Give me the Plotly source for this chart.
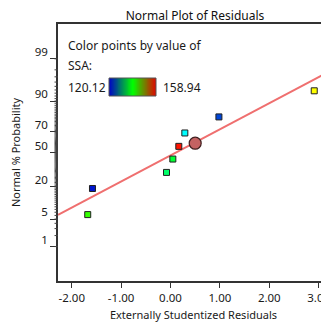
import numpy as np
import plotly.graph_objects as go
from statistics import NormalDist

# ---------------- data ----------------
residuals = [-1.676, -1.58, -0.081, 0.047, 0.168, 0.29, 0.98, 2.91]
probabilities = [6.25, 18.75, 31.25, 43.75, 56.25, 68.75, 81.25, 93.75]
ssa_values = [141.5, 121.0, 135.6, 137.6, 158.2, 129.8, 122.8, 149.2]
ssa_min, ssa_max = 120.12, 158.94

highlight_residual = [0.50]
highlight_probability = [59.3]

fit_center = 0.104
fit_scale = 1.547

x_tick_vals = [-2, -1, 0, 1, 2, 3]
x_tick_text = ["-2.00", "-1.00", "0.00", "1.00", "2.00", "3.00"]
y_tick_probs = [1, 5, 20, 50, 70, 90, 99]
y_tick_text = ["1", "5", "20", "50", "70", "90", "99"]
y_minor_probs = list(range(1, 100))

x_range = [-2.278, 3.209]
z_range = [-3.18, 3.19]

nd = NormalDist()
def z_of(p):
    return nd.inv_cdf(p / 100.0)

# page body adds an 8px offset; figure is laid out in reference pixels minus 8
OFF = 8
W, H = 329 - OFF, 322 - OFF
ML, MR, MT, MB = 58 - OFF, 0, 24 - OFF, 41
PW, PH = W - ML - MR, H - MT - MB

def px(x):
    return (x - OFF - ML) / PW

def py(y):
    return (H - MB - (y - OFF)) / PH

font_family = "Noto Sans, Open Sans, DejaVu Sans, sans-serif"
txt_col = "#1a1a1a"

fig = go.Figure()

# fit line
lx = np.array(x_range)
lz = (lx - fit_center) / fit_scale
fig.add_trace(go.Scatter(x=lx, y=lz, mode="lines",
                         line=dict(color="#ef6f6f", width=2),
                         hoverinfo="skip", showlegend=False))

# points
point_scale = [[0.0, "rgb(0,0,200)"], [0.25, "rgb(0,255,255)"],
               [0.5, "rgb(0,255,0)"], [0.75, "rgb(255,255,0)"],
               [1.0, "rgb(255,0,0)"]]
fig.add_trace(go.Scatter(
    x=residuals, y=[z_of(p) for p in probabilities], mode="markers",
    marker=dict(symbol="square", size=6, color=ssa_values,
                colorscale=point_scale, cmin=ssa_min, cmax=ssa_max,
                line=dict(color="#202020", width=1)),
    showlegend=False))

# highlighted circle
fig.add_trace(go.Scatter(
    x=highlight_residual, y=[z_of(p) for p in highlight_probability],
    mode="markers",
    marker=dict(symbol="circle", size=12, color="#c46262",
                line=dict(color="#402020", width=1.2)),
    showlegend=False))

# gradient bar (legend)
bar_scale = [[0.0, "rgb(0,0,200)"], [0.5, "rgb(0,255,0)"], [1.0, "rgb(230,0,0)"]]
gx = np.linspace(ssa_min, ssa_max, 100)
fig.add_trace(go.Heatmap(z=[gx], x=gx, y=[0], colorscale=bar_scale,
                         showscale=False, xaxis="x2", yaxis="y2",
                         hoverinfo="skip", zsmooth="best"))

bx0, bx1, by0, by1 = 109, 156, 78, 96
fig.add_shape(type="rect", xref="paper", yref="paper",
              x0=px(bx0), x1=px(bx1), y0=py(by1), y1=py(by0),
              line=dict(color="#555555", width=1))

# minor probability ticks
for p in y_minor_probs:
    fig.add_shape(type="line", xref="paper", yref="y",
                  x0=-3.5 / PW, x1=0, y0=z_of(p), y1=z_of(p),
                  line=dict(color="#444444", width=1))

annots = [
    dict(text="Color points by value of", x=px(66), y=py(45)),
    dict(text="SSA:", x=px(66), y=py(66)),
    dict(text=f"{ssa_min:.2f}", x=px(66), y=py(87)),
    dict(text=f"{ssa_max:.2f}", x=px(161), y=py(87)),
]
for a in annots:
    fig.add_annotation(xref="paper", yref="paper", xanchor="left",
                       yanchor="middle", showarrow=False,
                       font=dict(size=12, color=txt_col, family=font_family),
                       **a)

fig.update_layout(
    width=W, height=H,
    margin=dict(l=ML, r=MR, t=MT, b=MB, autoexpand=False),
    paper_bgcolor="white", plot_bgcolor="white",
    font=dict(family=font_family, color=txt_col, size=11),
    title=dict(text="Normal Plot of Residuals", x=px(195), xanchor="center",
               xref="paper", y=1 - (16 - OFF) / H, yanchor="middle",
               font=dict(size=12, color="#111111", family=font_family)),
    xaxis=dict(range=x_range, tickmode="array", tickvals=x_tick_vals,
               ticktext=x_tick_text, ticks="outside", ticklen=5,
               tickcolor="#333333", showline=True, linecolor="#333333",
               linewidth=1.5, mirror=True, showgrid=False, zeroline=False,
               tickfont=dict(size=11.5), automargin=False,
               ticklabeloverflow="allow",
               title=dict(text="Externally Studentized Residuals",
                          font=dict(size=11), standoff=8)),
    yaxis=dict(range=z_range, tickmode="array",
               tickvals=[z_of(p) for p in y_tick_probs], ticktext=y_tick_text,
               ticks="outside", ticklen=6, tickcolor="#333333",
               showline=True, linecolor="#333333", linewidth=1.5,
               mirror=False, showgrid=False, zeroline=False,
               tickfont=dict(size=11.5), ticklabelshift=-7, automargin=False,
               ticklabeloverflow="allow",
               title=dict(text="Normal % Probability", font=dict(size=11),
                          standoff=12)),
    xaxis2=dict(domain=[px(bx0), px(bx1)], anchor="y2", visible=False,
                range=[ssa_min, ssa_max]),
    yaxis2=dict(domain=[py(by1), py(by0)], anchor="x2", visible=False,
                range=[-0.5, 0.5]),
)

fig.write_html("out.html")
